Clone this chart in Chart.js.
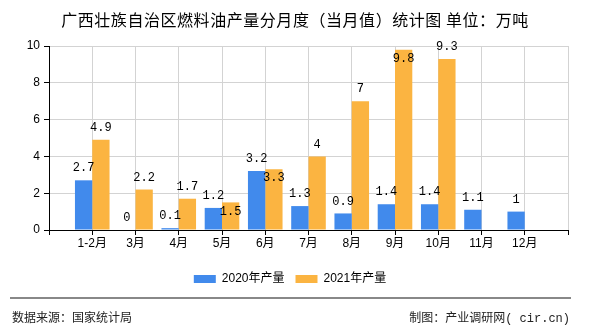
<!DOCTYPE html>
<html>
<head>
<meta charset="utf-8">
<script src="https://cdn.jsdelivr.net/npm/chart.js@4/dist/chart.umd.min.js"></script>
<style>
  html, body { margin: 0; padding: 0; background: #fff; }
  #wrap { position: relative; width: 590px; height: 330px; overflow: hidden; font-family: "Noto Sans CJK SC", sans-serif; }
  #chart { position: absolute; left: 0; top: 0; }
  #title { position: absolute; left: 0; top: 7px; width: 590px; text-align: center; font-size: 16px; letter-spacing: 0.55px; line-height: 24px; color: #000; }
  #rule { position: absolute; left: 10px; top: 297px; width: 561px; height: 0; border-top: 2px solid #888; }
  .foot { position: absolute; top: 307px; font-size: 12px; line-height: 20px; color: #222; }
  #source { left: 12px; }
  #maker { right: 20px; }
  #maker span { font-family: "Liberation Mono", monospace; }
</style>
</head>
<body>
<div id="wrap">
  <canvas id="chart" width="590" height="330"></canvas>
  <div id="title">广西壮族自治区燃料油产量分月度（当月值）统计图 单位：万吨</div>
  <div id="rule"></div>
  <div class="foot" id="source">数据来源：国家统计局</div>
  <div class="foot" id="maker">制图：产业调研网<span>( cir.cn)</span></div>
</div>
<script>
const months = ["1-2月", "3月", "4月", "5月", "6月", "7月", "8月", "9月", "10月", "11月", "12月"];
const output2020 = [2.7, 0, 0.1, 1.2, 3.2, 1.3, 0.9, 1.4, 1.4, 1.1, 1];
const output2021 = [4.9, 2.2, 1.7, 1.5, 3.3, 4, 7, 9.8, 9.3, null, null];
const yTicks = [0, 2, 4, 6, 8, 10];

// one empty slot on each side, the groups sit on the grid lines
const pad = arr => [null, ...arr, null];

const valueLabels = {
  id: "valueLabels",
  afterDatasetsDraw(chart) {
    const ctx = chart.ctx;
    const area = chart.chartArea;
    const m0 = chart.getDatasetMeta(0);
    const m1 = chart.getDatasetMeta(1);
    const d0 = chart.data.datasets[0].data;
    const d1 = chart.data.datasets[1].data;
    ctx.save();
    ctx.font = "12px 'Liberation Mono', monospace";
    ctx.fillStyle = "#000";
    ctx.textAlign = "center";
    ctx.textBaseline = "middle";
    for (let i = 0; i < d0.length; i++) {
      let y0 = null, w0 = 0;
      if (d0[i] !== null) {
        const b = m0.data[i];
        y0 = b.y - 12;
        w0 = ctx.measureText(String(d0[i])).width;
        ctx.fillText(String(d0[i]), b.x, y0);
      }
      if (d1[i] !== null) {
        const b = m1.data[i];
        const txt = String(d1[i]);
        const w1 = ctx.measureText(txt).width;
        let y1 = b.y - 12;
        const noRoom = y1 - 6 < area.top - 8;
        const clash = y0 !== null && Math.abs(y1 - y0) < 12 &&
          (w0 + w1) / 2 > Math.abs(b.x - m0.data[i].x);
        if (noRoom || clash) y1 = b.y + 9;
        ctx.fillText(txt, b.x, y1);
      }
    }
    ctx.restore();
  }
};

const ctx = document.getElementById("chart");
new Chart(ctx, {
  type: "bar",
  data: {
    labels: ["", ...months, ""],
    datasets: [
      {
        label: "2020年产量",
        data: pad(output2020),
        backgroundColor: "#418AEC"
      },
      {
        label: "2021年产量",
        data: pad(output2021),
        backgroundColor: "#FBB441"
      }
    ]
  },
  options: {
    responsive: false,
    animation: false,
    devicePixelRatio: 1,
    datasets: { bar: { categoryPercentage: 0.8, barPercentage: 1 } },
    layout: { padding: { top: 46, right: 22, left: 12, bottom: 35 } },
    plugins: {
      tooltip: { enabled: false },
      title: { display: false },
      legend: {
        position: "bottom",
        labels: {
          boxWidth: 22,
          boxHeight: 8,
          padding: 11,
          color: "#000",
          font: { size: 12, family: "'Liberation Sans', 'Noto Sans CJK SC', sans-serif" }
        }
      }
    },
    scales: {
      x: {
        offset: false,
        grid: { offset: false, color: "#d3d3d3", tickColor: "#000", tickLength: 5 },
        border: { color: "#000", width: 1 },
        ticks: {
          autoSkip: false,
          maxRotation: 0,
          padding: 1,
          color: "#000",
          font: { size: 12, family: "'Liberation Sans', 'Noto Sans CJK SC', sans-serif" }
        },
        afterFit(scale) { scale.height = 32; }
      },
      y: {
        min: 0,
        max: 10,
        afterBuildTicks(scale) { scale.ticks = yTicks.map(v => ({ value: v })); },
        grid: { color: "#d3d3d3", tickColor: "#000", tickLength: 5 },
        border: { color: "#000", width: 1 },
        ticks: {
          padding: 4,
          color: "#000",
          font: { size: 12, family: "'Liberation Sans', sans-serif" }
        },
        afterFit(scale) { scale.width = 37; }
      }
    }
  },
  plugins: [valueLabels]
});
</script>
</body>
</html>
